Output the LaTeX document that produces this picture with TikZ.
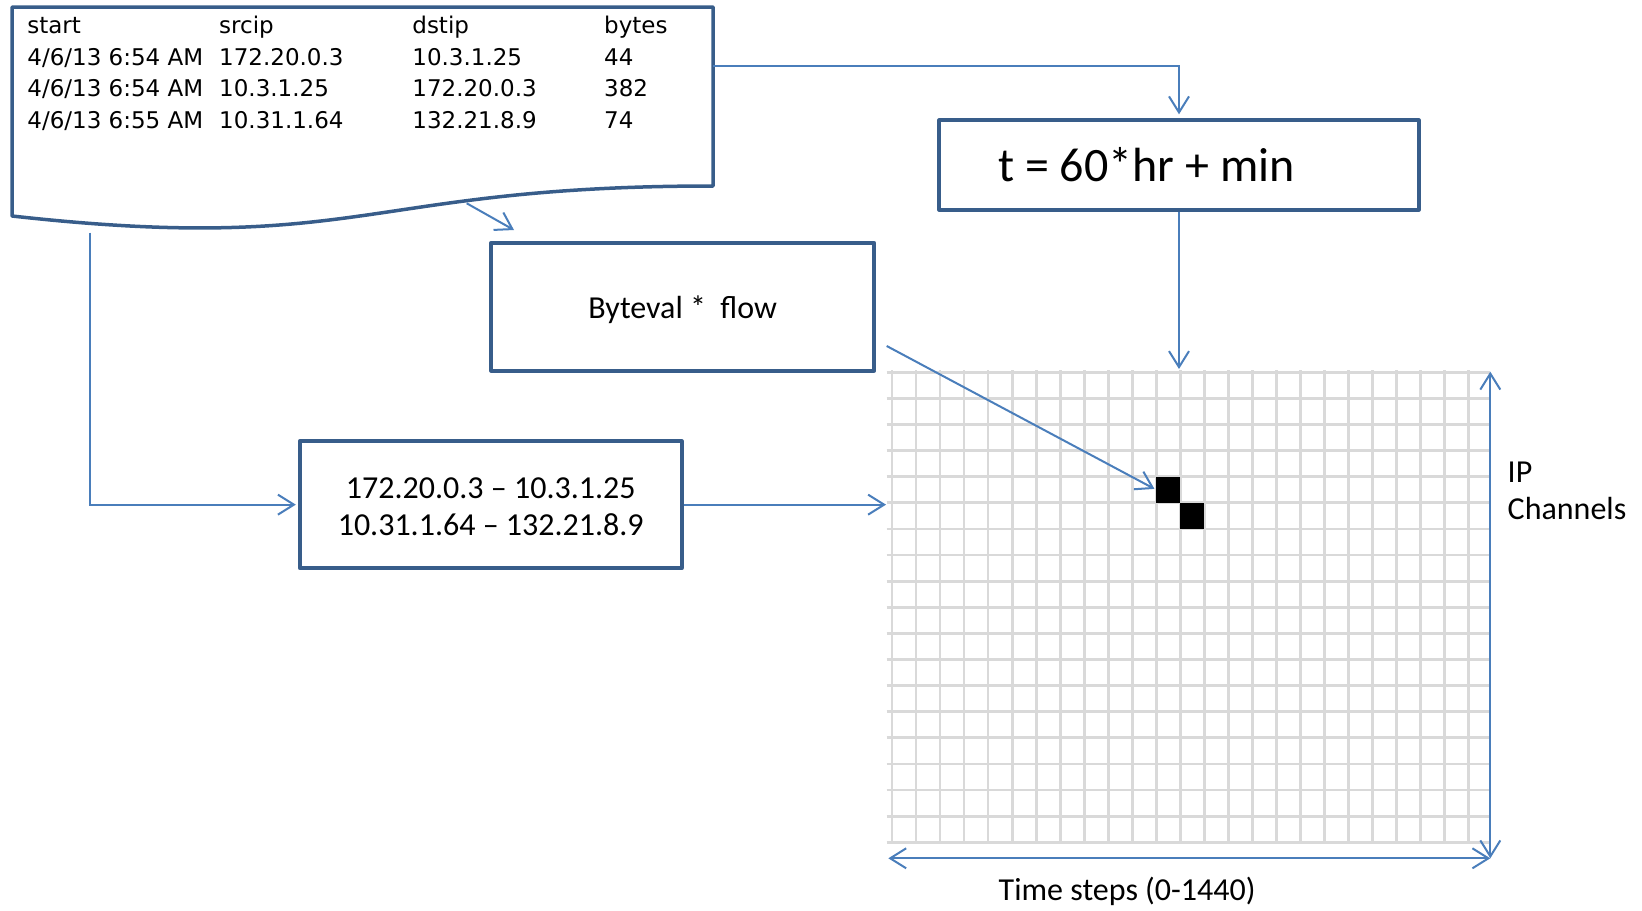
\documentclass[tikz,border=0pt]{standalone}
\usepackage{fontspec}
\setmainfont{Carlito}
\newfontfamily\tablefont{DejaVu Sans}
\usetikzlibrary{arrows.meta}
\definecolor{boxblue}{RGB}{56,93,138}
\definecolor{linkblue}{RGB}{74,126,187}
\definecolor{gridgray}{RGB}{217,217,217}
\begin{document}
\begin{tikzpicture}[x=0.5pt,y=-0.5pt,
  box/.style={draw=boxblue, line width=2pt, line join=round, inner sep=0pt, fill=white},
  conn/.style={draw=linkblue, line width=1pt, -{Straight Barb[length=8pt,width=10pt]}},
  both/.style={draw=linkblue, line width=1pt, {Straight Barb[length=8pt,width=10pt]}-{Straight Barb[length=8pt,width=10pt]}},
  tbl/.style={font=\tablefont\fontsize{11.5}{14}\selectfont, anchor=base west, inner sep=0pt},
  lbl/.style={font=\fontsize{16}{17.5}\selectfont, inner sep=0pt},
  cell/.style={fill=black, minimum width=12.01pt, minimum height=13.06pt, inner sep=0pt, outer sep=0pt},
  gridline/.style={draw=gridgray, line width=1.4pt}
]
\useasboundingbox (0,0) rectangle (1642,910);

% grid
\foreach \k in {0,...,18}
  \draw[gridline] (886.7,{372.3+26.11*\k}) -- (1490,{372.3+26.11*\k});
\foreach \k in {0,...,24}
  \draw[gridline] ({892+24.02*\k},370) -- ({892+24.02*\k},843.5);
\node[cell] (sq1) at (1168.2,489.8) {};
\node[cell] (sq2) at (1192.25,515.9) {};

% document shape
\draw[boxblue, line width=1.75pt, line join=round]
  (12,7) -- (713,7) -- (713,186) .. controls (362.5,186) and (362.5,255) .. (12,216) -- cycle;

% table
\node[tbl] (h1) at (27,33.3) {start};
\node[tbl] (h2) at (218.8,33.3) {srcip};
\node[tbl] (h3) at (412,33.3) {dstip};
\node[tbl] (h4) at (603.8,33.3) {bytes};
\node[tbl] (a1) at (27,65) {4/6/13 6:54 AM};
\node[tbl] (a2) at (218.8,65) {172.20.0.3};
\node[tbl] (a3) at (412,65) {10.3.1.25};
\node[tbl] (a4) at (603.8,65) {44};
\node[tbl] (b1) at (27,96.7) {4/6/13 6:54 AM};
\node[tbl] (b2) at (218.8,96.7) {10.3.1.25};
\node[tbl] (b3) at (412,96.7) {172.20.0.3};
\node[tbl] (b4) at (603.8,96.7) {382};
\node[tbl] (c1) at (27,128.3) {4/6/13 6:55 AM};
\node[tbl] (c2) at (218.8,128.3) {10.31.1.64};
\node[tbl] (c3) at (412,128.3) {132.21.8.9};
\node[tbl] (c4) at (603.8,128.3) {74};

% boxes
\node[box, minimum height=44.7pt, inner xsep=29.5pt, text height=16.8pt, text depth=0pt,
      font=\fontsize{24}{28}\selectfont] (tbox) at (1179,165) {\makebox[180.7pt][l]{t = 60*hr + min}};
\node[box, lbl, minimum width=191.35pt, minimum height=64pt, text height=11.6pt, text depth=0pt] (bv) at (682.65,306.7) {Byteval * \ flow};
\node[box, lbl, minimum width=190.95pt, minimum height=63.35pt, align=center,
      font=\fontsize{16}{18.85}\selectfont] (ip) at (490.75,504.65) {\rule{0pt}{12.5pt}172.20.0.3 – 10.3.1.25\\10.31.1.64 – 132.21.8.9};

% connector end points
\coordinate (docR) at (713,65.7);
\coordinate (gtop) at (1179,369);
\coordinate (w1) at (466.7,203.3);
\coordinate (w2) at (514,230);
\coordinate (bvout) at (886.7,346);
\coordinate (dl) at (90.3,232.5);
\coordinate (gl) at (886,504.65);
\coordinate (atop) at (1490.3,371.7);
\coordinate (acorner) at (1490.3,858.3);
\coordinate (aleft) at (888.3,858.3);

% connectors
\draw[conn] (docR) -| ([yshift=2pt]tbox.north);
\draw[conn] (tbox.south) -- (gtop);
\draw[conn] (w1) -- (w2);
\draw[conn, shorten >=1pt] (bvout) -- (sq1.west);
\draw[conn] (dl) |- ([xshift=-1pt]ip.west);
\draw[conn] (ip.east) -- (gl);
\draw[both] (atop) -- (acorner);
\draw[both] (aleft) -- (acorner);

% labels
\node[lbl, anchor=north west, align=left, font=\fontsize{16}{18.5}\selectfont] (ipch) at (1507.3,461.5) {IP\\Channels};
\node[lbl, anchor=base west] (ts) at (998.3,900.7) {Time steps (0-1440)};
\end{tikzpicture}
\end{document}
